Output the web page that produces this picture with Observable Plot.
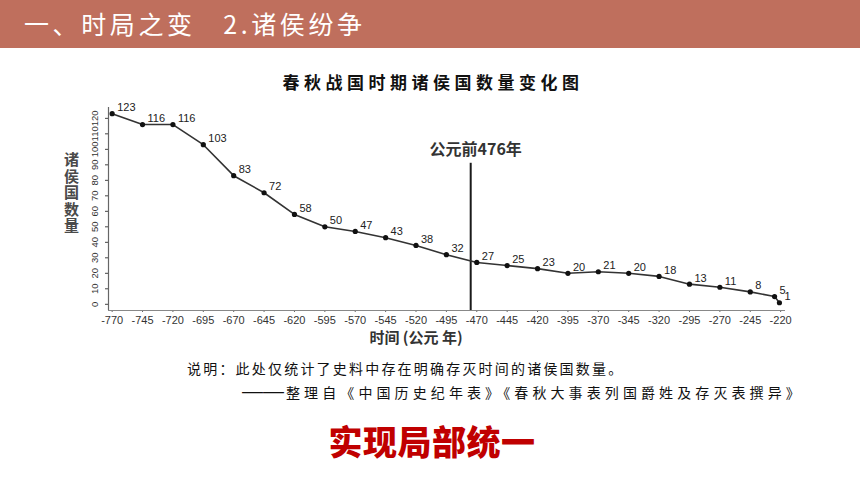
<!DOCTYPE html>
<html><head><meta charset="utf-8">
<script src="https://cdn.jsdelivr.net/npm/d3@7"></script>
<script src="https://cdn.jsdelivr.net/npm/@observablehq/plot@0.6"></script>
<style>
body{margin:0;background:#fff;}
#page{position:relative;width:860px;height:484px;overflow:hidden;font-family:"Noto Sans CJK SC",sans-serif;background:#fff;}
#band{position:absolute;left:0;top:0;width:860px;height:48px;background:#bf6f5d;}
#head{position:absolute;left:24px;top:5px;color:#fff;font-size:25px;line-height:36px;letter-spacing:3.6px;white-space:pre;}
#title{position:absolute;left:0;width:866px;top:71px;text-align:center;font-size:17px;font-weight:700;letter-spacing:4.5px;color:#111;line-height:22px;}
#chart{position:absolute;left:0;top:95px;}
#ytitle{position:absolute;left:62px;top:152px;width:18px;font-size:15px;line-height:18px;font-weight:700;color:#4a4a4a;writing-mode:vertical-rl;text-orientation:upright;letter-spacing:1.5px;}
#xtitle{position:absolute;left:366px;top:327px;width:100px;text-align:center;font-size:15px;font-weight:700;color:#333;line-height:20px;white-space:nowrap;}
.cap{position:absolute;font-size:14px;color:#111;white-space:nowrap;line-height:18px;}
#dashtxt{font-family:"Liberation Sans",Arial,sans-serif;font-size:21px;letter-spacing:0;line-height:18px;margin-right:2px;}
#big{position:absolute;left:0;width:864px;top:419px;text-align:center;font-size:34px;font-weight:900;color:#c00000;letter-spacing:0.5px;line-height:44px;}
</style></head>
<body><div id="page">
<div id="band"></div>
<div id="head"></div>
<div id="title"></div>
<div id="chart"></div>
<div id="ytitle"></div>
<div id="xtitle"></div>
<div class="cap" id="cap1" style="left:187px;top:359px;letter-spacing:2.2px;"></div>
<div class="cap" id="cap2" style="left:242px;top:382px;letter-spacing:4.1px;"><span id="dashtxt"></span><span id="cap2txt"></span></div>
<div id="big"></div>
</div>
<script>
const headText = "一、时局之变   2.诸侯纷争";
const chartTitle = "春秋战国时期诸侯国数量变化图";
const yTitle = "诸侯国数量";
const xTitle = "时间 (公元 年)";
const caption1 = "说明：此处仅统计了史料中存在明确存灭时间的诸侯国数量。";
const caption2Dash = "——";
const caption2 = "整理自《中国历史纪年表》《春秋大事表列国爵姓及存灭表撰异》";
const bigText = "实现局部统一";

const years = [-770,-745,-720,-695,-670,-645,-620,-595,-570,-545,-520,-495,-470,-445,-420,-395,-370,-345,-320,-295,-270,-245,-225,-221];
const counts = [123,116,116,103,83,72,58,50,47,43,38,32,27,25,23,20,21,20,18,13,11,8,5,1];
const xTicks = [-770,-745,-720,-695,-670,-645,-620,-595,-570,-545,-520,-495,-470,-445,-420,-395,-370,-345,-320,-295,-270,-245,-220];
const yTicks = [0,10,20,30,40,50,60,70,80,90,100,110,120];
const eventYear = [-475];
const eventTop = [91];
const eventLabel = ["公元前476年"];

document.getElementById("head").textContent = headText;
document.getElementById("title").textContent = chartTitle;
document.getElementById("ytitle").textContent = yTitle;
document.getElementById("xtitle").textContent = xTitle;
document.getElementById("cap1").textContent = caption1;
document.getElementById("dashtxt").textContent = caption2Dash;
document.getElementById("cap2txt").textContent = caption2;
document.getElementById("big").textContent = bigText;

const data = years.map((y,i)=>({year:y, n:counts[i]}));
const ev = eventYear.map((y,i)=>({year:y, top:eventTop[i], label:eventLabel[i]}));
const font = "Liberation Sans, Arial, sans-serif";

const chart = Plot.plot({
  width:860, height:255,
  marginLeft:108, marginRight:75, marginTop:12, marginBottom:40,
  style:{fontFamily:font, background:"transparent", color:"#333"},
  x:{domain:[-773,-216]},
  y:{domain:[-4,127]},
  marks:[
    Plot.axisX({ticks:xTicks, tickFormat:d=>String(d), tickSize:2, tickPadding:4, fontSize:11, label:null, stroke:"#666"}),
    Plot.axisY({ticks:yTicks, tickFormat:d=>String(d), tickSize:3, tickPadding:8, tickRotate:-90, fontSize:9.5, label:null, stroke:"#444"}),
    Plot.ruleY([-4], {stroke:"#888", strokeWidth:1.2}),
    Plot.ruleX([-773], {stroke:"#666", strokeWidth:1.2}),
    Plot.ruleX(ev, {x:"year", y1:-4, y2:"top", stroke:"#1a1a1a", strokeWidth:2}),
    Plot.text(ev, {x:"year", y:"top", text:"label", dy:-13, dx:5, fontSize:16, fontWeight:700, fill:"#333", fontFamily:"Noto Sans CJK SC"}),
    Plot.line(data, {x:"year", y:"n", stroke:"#333", strokeWidth:1.6}),
    Plot.dot(data, {x:"year", y:"n", r:2.6, fill:"#111", stroke:"none"}),
    Plot.text(data, {x:"year", y:"n", text:d=>String(d.n), dx:5, dy:-6, textAnchor:"start", fontSize:11, fill:"#222"})
  ]
});
document.getElementById("chart").appendChild(chart);
</script>
</body></html>
